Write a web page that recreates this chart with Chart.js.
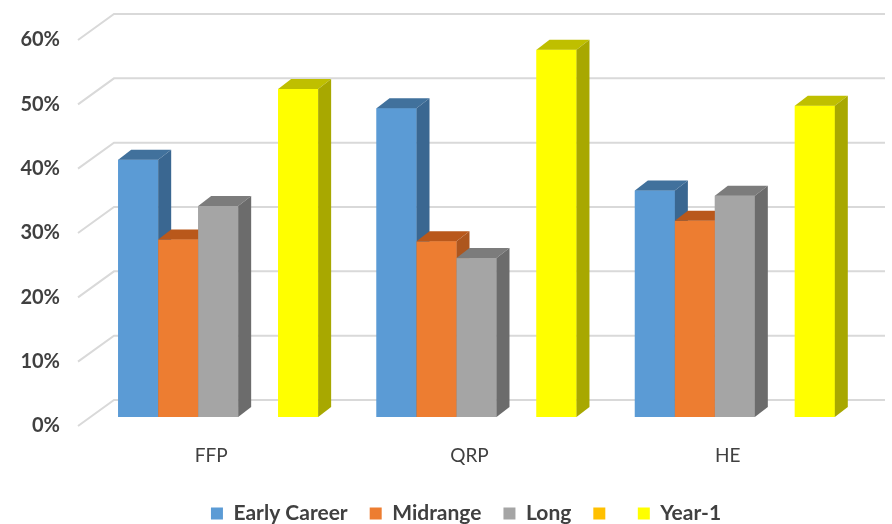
<!DOCTYPE html>
<html>
<head>
<meta charset="utf-8">
<script src="https://cdn.jsdelivr.net/npm/chart.js@4/dist/chart.umd.min.js"></script>
<style>
  html, body { margin: 0; padding: 0; background: #fff; }
  #wrap { width: 892px; height: 524px; }
</style>
</head>
<body>
<div id="wrap"><canvas id="chart"></canvas></div>
<script>
const categories = ['FFP', 'QRP', 'HE'];
const earlyCareer = [40, 48, 35.2];
const midrange = [27.6, 27.3, 30.5];
const longTerm = [32.8, 24.7, 34.4];
const blank = [null, null, null];
const year1 = [51, 57.1, 48.4];
const yTicks = [0, 10, 20, 30, 40, 50, 60];

// 3D look: depth of each bar and colours of its top / side faces
const depthX = 13, depthY = 10;

const bar3d = {
  id: 'bar3d',
  afterLayout(chart) {
    // legend in the original sits a bit right of centre
    chart.legend.left += 34;
    chart.legend.right += 34;
  },
  beforeDatasetsDraw(chart) {
    const { ctx, chartArea: a, scales: { y } } = chart;
    ctx.save();
    ctx.strokeStyle = '#d9d9d9';
    ctx.lineWidth = 2;
    y.ticks.forEach(t => {
      const py = y.getPixelForValue(t.value);
      ctx.beginPath();
      ctx.moveTo(a.left - 11, py + 9);
      ctx.lineTo(a.left + 25, py - 17);
      ctx.lineTo(a.right + 21, py - 17);
      ctx.stroke();
    });
    ctx.restore();
  },
  afterDatasetsDraw(chart) {
    const ctx = chart.ctx;
    ctx.save();
    categories.forEach((c, i) => {
      chart.data.datasets.forEach((ds, d) => {
        if (ds.data[i] == null) return;
        const bar = chart.getDatasetMeta(d).data[i];
        const { x, y, base, width } = bar.getProps(['x', 'y', 'base', 'width'], true);
        const l = x - width / 2, r = x + width / 2;
        ctx.fillStyle = ds.backgroundColor;
        ctx.fillRect(l, y, width, base - y);
        ctx.fillStyle = ds.topColor;
        ctx.beginPath();
        ctx.moveTo(l, y);
        ctx.lineTo(l + depthX, y - depthY);
        ctx.lineTo(r + depthX, y - depthY);
        ctx.lineTo(r, y);
        ctx.closePath();
        ctx.fill();
        ctx.fillStyle = ds.sideColor;
        ctx.beginPath();
        ctx.moveTo(r, y);
        ctx.lineTo(r + depthX, y - depthY);
        ctx.lineTo(r + depthX, base - depthY);
        ctx.lineTo(r, base);
        ctx.closePath();
        ctx.fill();
      });
    });
    ctx.restore();
  }
};

new Chart(document.getElementById('chart'), {
  type: 'bar',
  plugins: [bar3d],
  data: {
    labels: categories,
    datasets: [
      { label: 'Early Career', data: earlyCareer, backgroundColor: '#5b9bd5', topColor: '#41719c', sideColor: '#3a6791' },
      { label: 'Midrange', data: midrange, backgroundColor: '#ed7d31', topColor: '#b9581b', sideColor: '#ad561e' },
      { label: 'Long', data: longTerm, backgroundColor: '#a5a5a5', topColor: '#7c7c7c', sideColor: '#6c6c6c' },
      { label: '', data: blank, backgroundColor: '#ffc000', topColor: '#bf9000', sideColor: '#a67d00' },
      { label: 'Year-1', data: year1, backgroundColor: '#ffff00', topColor: '#bfbf00', sideColor: '#a8a800' }
    ]
  },
  options: {
    responsive: true,
    maintainAspectRatio: false,
    animation: false,
    datasets: { bar: { categoryPercentage: 0.774, barPercentage: 1, borderWidth: 0 } },
    layout: { padding: { top: 31, right: 28, left: 0, bottom: -10 } },
    plugins: {
      tooltip: { enabled: false },
      legend: {
        position: 'bottom',
        labels: {
          boxWidth: 12, boxHeight: 12, padding: 22, color: '#404040',
          font: { family: 'Lato', size: 21, weight: 'bold' }
        }
      }
    },
    scales: {
      x: {
        grid: { display: false, drawTicks: false },
        border: { display: false },
        ticks: { padding: 27, labelOffset: -7, color: '#404040', font: { family: 'Lato', size: 19 } },
        afterFit: s => { s.height = 64; }
      },
      y: {
        min: 0, max: 60,
        grid: { display: false, drawTicks: false },
        border: { display: false },
        afterBuildTicks: s => { s.ticks = yTicks.map(v => ({ value: v })); },
        ticks: {
          padding: 29, labelOffset: 9, color: '#404040',
          font: { family: 'Lato', size: 20, weight: 'bold' },
          callback: v => v + '%'
        },
        afterFit: s => { s.width = 89; s.paddingTop = 0; s.paddingBottom = 0; }
      }
    }
  }
});
</script>
</body>
</html>
